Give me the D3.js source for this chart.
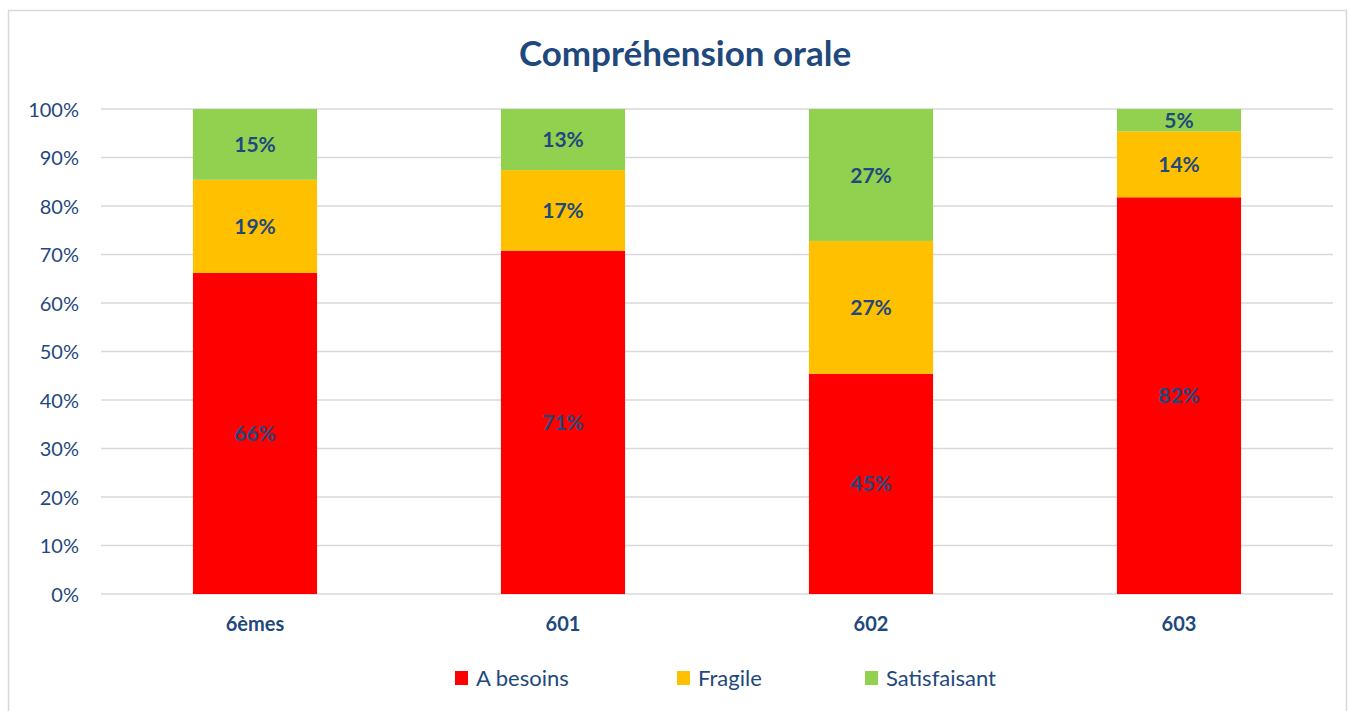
<!DOCTYPE html>
<html><head><meta charset="utf-8">
<script src="https://cdn.jsdelivr.net/npm/d3@7"></script>
<style>
body{margin:0;background:#fff;}
svg{display:block;}
svg text{font-family:Lato,"Open Sans",sans-serif;}
</style></head><body>
<svg id="c" width="1349" height="711"></svg>
<script>
const categories = ["6èmes", "601", "602", "603"];
const seriesNames = ["A besoins", "Fragile", "Satisfaisant"];
const aBesoins = [0.662, 0.708, 0.454, 0.818];
const fragile = [0.192, 0.166, 0.274, 0.136];
const satisfaisant = [0.146, 0.126, 0.272, 0.046];
const tickValues = [0, 0.1, 0.2, 0.3, 0.4, 0.5, 0.6, 0.7, 0.8, 0.9, 1.0];
const colors = ["#FF0000", "#FFC000", "#92D050"];
const textColor = "#1F497D";

const svg = d3.select("#c");
// chart frame
svg.append("rect").attr("x",8.5).attr("y",10.5).attr("width",1338).attr("height",710)
  .attr("fill","#fff").attr("stroke","#d9d9d9").attr("stroke-width",1.5);

const x = d3.scaleBand().domain(categories).range([101,1333]).paddingInner(0.597).paddingOuter(0.2985);
const y = d3.scaleLinear().domain([0,1]).range([594,109]);

// gridlines
svg.append("g").selectAll("line").data(tickValues).join("line")
  .attr("x1",101).attr("x2",1333).attr("y1",d=>y(d)).attr("y2",d=>y(d))
  .attr("stroke","#d9d9d9").attr("stroke-width",1.5);

// y axis
const yAxis = d3.axisLeft(y).tickValues(tickValues).tickFormat(d3.format(".0%")).tickSize(0).tickPadding(0);
const gy = svg.append("g").attr("transform","translate(79,0)").call(yAxis);
gy.attr("font-family",null).attr("font-size",null);
gy.select(".domain").remove();
gy.selectAll("text").attr("fill",textColor).style("font-size","20px").attr("dy","0.35em");

// x axis
const xAxis = d3.axisBottom(x).tickSize(0).tickPadding(0);
const gx = svg.append("g").attr("transform","translate(0,617)").call(xAxis);
gx.attr("font-family",null).attr("font-size",null);
gx.select(".domain").remove();
gx.selectAll("text").attr("fill",textColor).style("font-size","20px").style("font-weight","bold").attr("dy","0.71em");

// stacked data
const rows = categories.map((c,i)=>({cat:c, "A besoins":aBesoins[i], "Fragile":fragile[i], "Satisfaisant":satisfaisant[i]}));
const stack = d3.stack().keys(seriesNames)(rows);

const layers = svg.append("g").selectAll("g").data(stack).join("g").attr("fill",(d,i)=>colors[i]);
layers.selectAll("rect").data(d=>d).join("rect")
  .attr("x",d=>x(d.data.cat)).attr("width",x.bandwidth())
  .attr("y",d=>y(d[1])).attr("height",d=>y(d[0])-y(d[1]));

layers.selectAll("text").data(d=>d).join("text")
  .attr("x",d=>x(d.data.cat)+x.bandwidth()/2)
  .attr("y",d=>(y(d[0])+y(d[1]))/2)
  .attr("dy","0.36em").attr("text-anchor","middle")
  .attr("fill",textColor).style("font-size","21px").style("font-weight","bold")
  .text(d=>Math.round((d[1]-d[0])*100)+"%");

// title
svg.append("text").attr("x",685).attr("y",66).attr("text-anchor","middle")
  .attr("fill",textColor).style("font-size","35px").style("font-weight","bold")
  .text("Compréhension orale");

// legend
const legendX = [455, 677, 865];
const lg = svg.append("g").selectAll("g").data(seriesNames).join("g")
  .attr("transform",(d,i)=>`translate(${legendX[i]},671)`);
lg.append("rect").attr("width",13).attr("height",14).attr("fill",(d,i)=>colors[i]);
lg.append("text").attr("x",21).attr("y",7).attr("dy","0.36em")
  .attr("fill",textColor).style("font-size","22px").text(d=>d);
</script>
</body></html>
